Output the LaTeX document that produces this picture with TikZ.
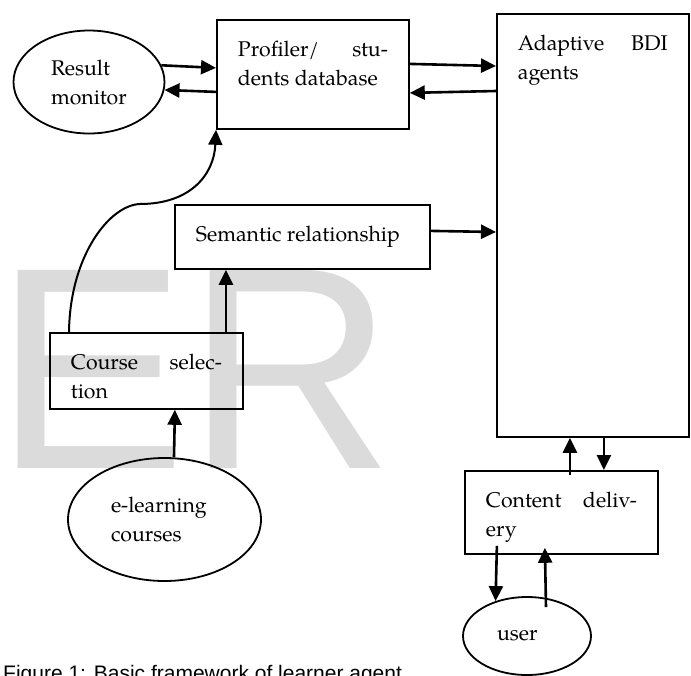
\documentclass[tikz,border=0pt]{standalone}
\usepackage{fontspec}
\setmainfont{TeX Gyre Pagella}
\usetikzlibrary{arrows.meta,shapes.geometric}
\newfontfamily\capfont{Liberation Sans}
\newcommand{\boxtxt}[3]{\parbox[c][#2][t]{#1}{#3}}

\begin{document}
\begin{tikzpicture}[x=1pt, y=-1pt, font=\fontsize{21.3}{29}\selectfont,
  box/.style={draw, line width=1.8pt, inner sep=21pt, anchor=north west},
  oval/.style={draw, ellipse, line width=1.8pt, inner sep=0pt, align=left},
  arr/.style={-{Triangle[length=15pt,width=14pt]}, line width=2.6pt},
  wmark/.style={text=black!14, font=\capfont\fontsize{288}{300}\selectfont, anchor=base west, inner sep=0pt},
  capt/.style={font=\capfont\fontsize{21}{25}\selectfont, anchor=base west, inner sep=0pt}]
\useasboundingbox (0,0) rectangle (691,675);
\clip (0,0) rectangle (691,675);
\node[wmark] (wm) at (-6,468) {ER};
\node[oval, minimum width=151pt, minimum height=103pt, text width=76pt] (res) at (89,82) {Result\\monitor};
\node[box] (prof) at (216,19) {\boxtxt{150pt}{67pt}{Profiler/\hfill stu-\\dents database}};
\node[box] (bdi) at (496,13) {\boxtxt{150pt}{381pt}{Adaptive\hfill BDI\\agents}};
\node[box] (sem) at (174,204) {\boxtxt{213pt}{22pt}{Semantic relationship}};
\node[box] (crs) at (49,332) {\boxtxt{151pt}{34pt}{Course\hfill selec-\\tion}};
\node[oval, minimum width=193pt, minimum height=123pt, text width=107pt] (elc) at (164.5,519.5) {e-learning\\courses};
\node[box] (cont) at (464,470) {\boxtxt{151pt}{41pt}{Content\hfill deliv-\\ery}};
\node[oval, minimum width=128pt, minimum height=78pt, text width=60pt] (user) at (527,636) {user};
\node[capt] (cap) at (3,680) {Figure 1: Basic framework of learner agent};
\draw[arr] (res.13) -- ([yshift=6.5pt]prof.west);
\draw[arr] ([yshift=-17.5pt]prof.west) -- (res.-6);
\draw[arr] ([yshift=10.5pt]prof.east) -- ([yshift=-53pt]bdi.north west);
\draw[arr] ([yshift=-78pt]bdi.north west) -- ([yshift=-18.5pt]prof.east);
\draw[arr] ([yshift=6pt]sem.east) -- ([yshift=-219pt]bdi.north west);
\draw[arr] ([xshift=79.5pt]crs.north) -- ([xshift=-76.5pt]sem.south);
\draw[arr, line width=2pt] ([xshift=20pt]crs.north west) .. controls (70,255) and (110,205) .. (140,204)
  .. controls (190,204) and (214,175) .. (prof.south west);
\draw[arr] ([xshift=9.5pt]elc.north) -- ([xshift=28.5pt]crs.south);
\draw[arr] ([xshift=8.5pt,yshift=-5pt]cont.north) -- ([xshift=-23pt]bdi.south);
\draw[arr] ([xshift=11pt]bdi.south) -- ([xshift=42.5pt]cont.north);
\draw[arr] ([xshift=-64.5pt,yshift=9pt]cont.south) -- (user.132);
\draw[arr] ([xshift=19pt,yshift=-11pt]user.north) -- ([xshift=-16.5pt,yshift=7pt]cont.south);
\end{tikzpicture}
\end{document}
